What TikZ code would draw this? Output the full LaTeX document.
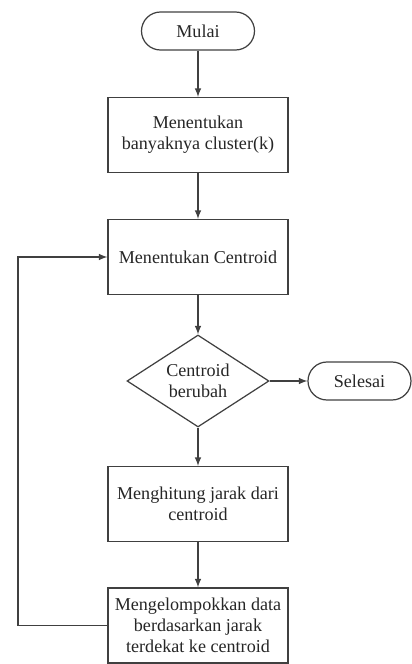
\documentclass[tikz,border=0pt]{standalone}
\usepackage{fontspec}
\setmainfont{LiberationSerif}[Extension=.ttf, UprightFont=*-Regular, BoldFont=*-Bold]
\usetikzlibrary{shapes.geometric}

\begin{document}
\begin{tikzpicture}[
            line width=0.7pt,
            >=latex,
            every node/.style={
                font=\rmfamily\fontsize{10.3}{12}\selectfont,
                text=black!85
            },
            proc/.style={
                draw=black!75,
                minimum width=3.6cm,
                minimum height=1.5cm,
                align=center
            },
            term/.style={
                draw=black!75,
                rounded corners=3.8mm,
                minimum height=0.76cm
            },
            cond/.style={
                draw=black!75,
                diamond,
                aspect=1.55,
                inner sep=0pt,
                minimum width=2.84cm,
                minimum height=1.84cm,
                align=center
            },
            flow/.style={
                ->,
                draw=black!75
            }
        ]
            \useasboundingbox (0,0) rectangle (8.22,-13.28);
            \node[term, minimum width=2.26cm] (mulai) at (3.96,-0.62) {Mulai};
            \foreach \n/\txt/\y in {
                1/Menentukan\\banyaknya cluster(k)/-2.7,
                2/Menentukan Centroid/-5.14,
                3/Menghitung jarak dari\\centroid/-10.08,
                4/Mengelompokkan data\\berdasarkan jarak\\terdekat ke centroid/-12.51
            } {
                \node[proc] (b\n) at (3.96,\y) {\txt};
            }
            \node[cond] (ubah) at (3.96,-7.62) {Centroid\\berubah};
            \node[term, minimum width=2.06cm] (selesai) at (7.19,-7.62) {Selesai};
            \coordinate (balik) at (0.36,-9);

            \draw[flow] (mulai) -- (b1);
            \draw[flow] (b1) -- (b2);
            \draw[flow] (b2) -- (ubah);
            \draw[flow] (ubah) -- (selesai);
            \draw[flow] (ubah) -- (b3);
            \draw[flow] (b3) -- (b4);
            \draw[flow] (b4.west) -| (balik) |- (b2.west);
        \end{tikzpicture}
\end{document}
